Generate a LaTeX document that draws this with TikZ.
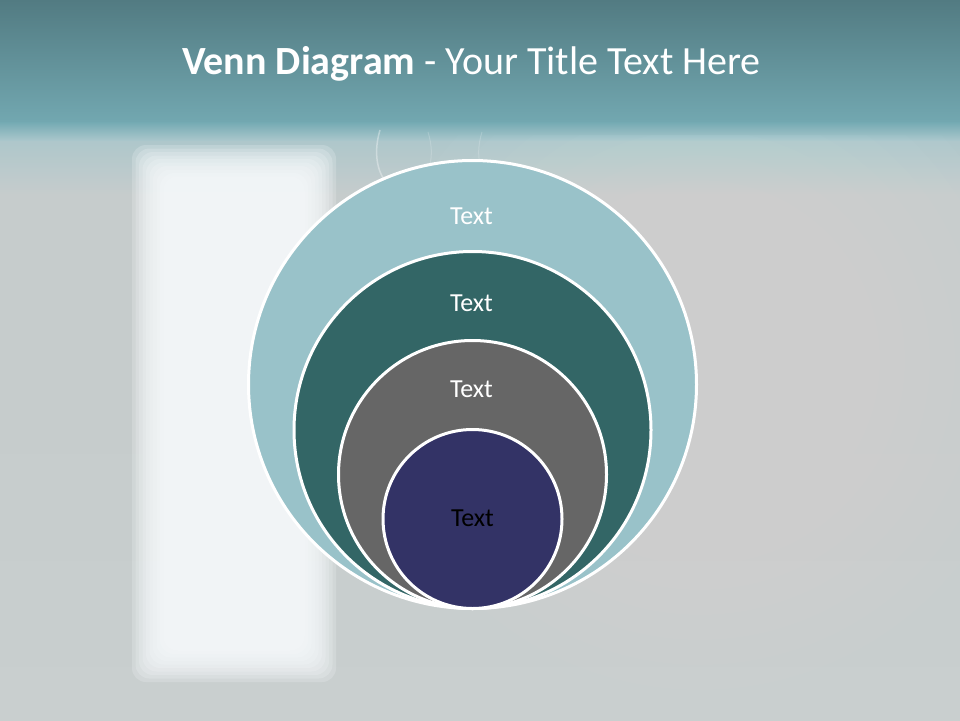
\documentclass[tikz,border=0pt]{standalone}
\usepackage{fontspec}
\setmainfont{Carlito}
\definecolor{hdrtop}{HTML}{527B82}
\definecolor{hdrbot}{HTML}{74AAB3}
\definecolor{hdrmid}{HTML}{A9C6CB}
\definecolor{bgc}{HTML}{C6CCCC}
\definecolor{bgb}{HTML}{C9CFCF}
\definecolor{winc}{HTML}{F8FBFD}
\definecolor{c1}{HTML}{99C2C9}
\definecolor{c2}{HTML}{336666}
\definecolor{c3}{HTML}{666666}
\definecolor{c4}{HTML}{333366}
\begin{document}
\begin{tikzpicture}[x=1pt,y=-1pt,
  ring/.style={circle, draw=white, line width=3pt, inner sep=0pt},
  lbl/.style={text=white, font=\fontsize{26}{30}\selectfont, inner sep=0pt}]
\useasboundingbox (0,0) rectangle (960,720);
% background
\fill[bgc] (0,0) rectangle (960,720);
\shade[top color=bgc, bottom color=bgb] (0,400) rectangle (960,720);
% header band
\shade[top color=hdrtop, bottom color=hdrbot] (0,0) rectangle (960,129);
\shade[top color=hdrmid, bottom color=bgc] (0,129) rectangle (960,195);
\shade[top color=hdrbot, bottom color=hdrmid] (0,122) rectangle (960,140);
% soft glow on the right
\begin{scope}
  \clip (0,135) rectangle (960,720);
  \foreach \r in {330,305,...,55}
    \fill[white, opacity=0.018] (700,360) circle (\r);
\end{scope}
% blurred window on the left
\foreach \i in {0,...,9}
  \fill[winc, opacity=0.2, rounded corners=14pt]
    (132+\i*3.5, 145+\i*3.5) rectangle (336-\i*3.5, 682-\i*3.5);
% faint reflections
\draw[white, opacity=0.35, line width=1.5pt] (380,130) .. controls (374,150) and (376,170) .. (386,182);
\draw[white, opacity=0.18, line width=1pt] (428,132) .. controls (432,145) and (432,155) .. (430,165);
\draw[white, opacity=0.18, line width=1pt] (482,132) .. controls (478,145) and (478,155) .. (480,165);
% title
\node[anchor=base, text=white, inner sep=0pt, font=\fontsize{40}{44}\selectfont]
  (title) at (471.5,74) {\textbf{Venn Diagram} - Your Title Text Here};
% circles
\node[ring, fill=c1, minimum size=448pt] (r1) at (472.5,384.5) {};
\node[ring, fill=c2, minimum size=357pt] (r2) at (472.5,430) {};
\node[ring, fill=c3, minimum size=268pt] (r3) at (472.5,474.5) {};
\node[ring, fill=c4, minimum size=179pt] (r4) at (472.5,519) {};
% labels
\node[lbl] (t1) at (471.5,216.5) {Text};
\node[lbl] (t2) at (471.5,303) {Text};
\node[lbl] (t3) at (471.5,389.5) {Text};
\node[lbl, text=black] (t4) at (472.5,518.5) {Text};
\end{tikzpicture}
\end{document}
